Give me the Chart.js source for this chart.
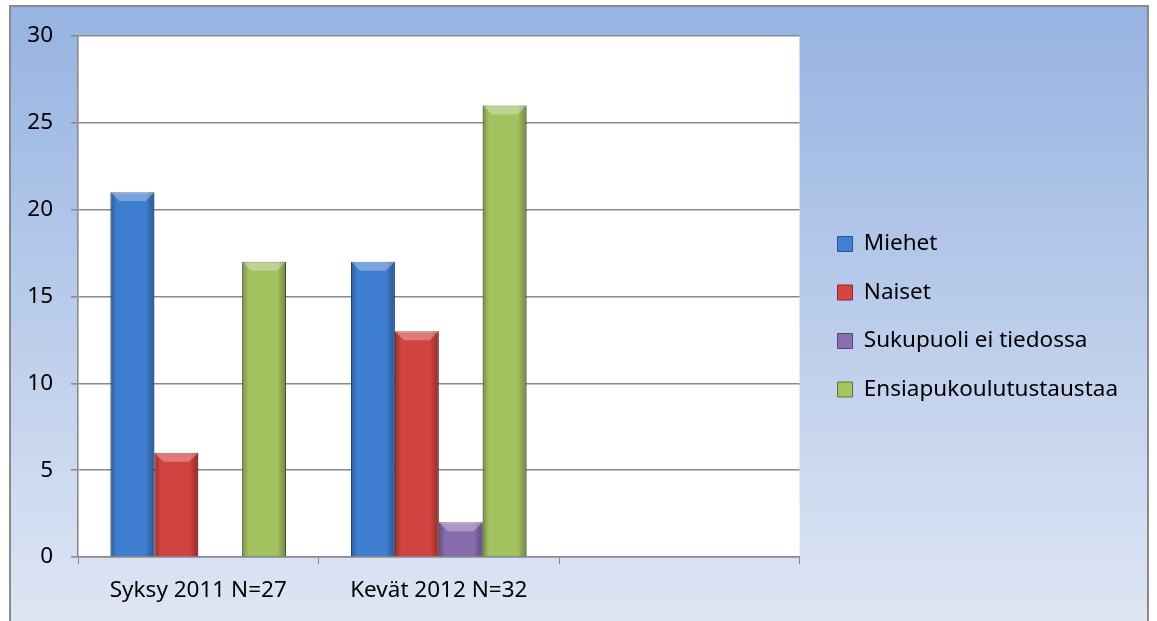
<!DOCTYPE html>
<html>
<head>
<meta charset="utf-8">
<script src="https://cdn.jsdelivr.net/npm/chart.js@4/dist/chart.umd.min.js"></script>
<style>
  html, body { margin: 0; padding: 0; background: #fff; }
  #wrap { width: 1157px; height: 621px; }
</style>
</head>
<body>
<div id="wrap"><canvas id="chart" width="1157" height="621"></canvas></div>
<script>
// Luokat ja sarjat
const categories = ['Syksy 2011 N=27', 'Kevät 2012 N=32', ''];
const miehet = [21, 17, null];
const naiset = [6, 13, null];
const sukupuoliEiTiedossa = [0, 2, null];
const ensiapu = [17, 26, null];
const yTicks = [0, 5, 10, 15, 20, 25, 30];

const FONT = "'Noto Sans'";
const FSIZE = 22.5;
const GRID = '#8a8a8a';

// Tausta ja kehys
const backgroundPlugin = {
    id: 'tausta',
    beforeDraw(chart) {
        const ctx = chart.ctx;
        const a = chart.chartArea;
        ctx.save();
        const g = ctx.createLinearGradient(0, 6, 0, 640);
        g.addColorStop(0, '#96b3e2');
        g.addColorStop(1, '#e0e7f4');
        ctx.fillStyle = g;
        ctx.fillRect(10, 6, 1138, 640);
        ctx.strokeStyle = '#8a8a8a';
        ctx.lineWidth = 2;
        ctx.strokeRect(10, 6, 1138, 640);
        ctx.fillStyle = '#ffffff';
        ctx.fillRect(a.left, a.top, a.right - a.left, a.bottom - a.top);
        ctx.restore();
    }
};

// Viistetyt palkit
const bevelPlugin = {
    id: 'viiste',
    afterDatasetsDraw(chart) {
        const ctx = chart.ctx;
        ctx.save();
        chart.data.datasets.forEach((ds, i) => {
            const meta = chart.getDatasetMeta(i);
            meta.data.forEach((bar, j) => {
                if (!ds.data[j]) return;
                const w = bar.width;
                const l = bar.x - w / 2;
                const r = bar.x + w / 2;
                const t = bar.y;
                const b = bar.base;
                const bv = 9;
                const hg = ctx.createLinearGradient(l, 0, r, 0);
                hg.addColorStop(0, 'rgba(0,0,0,0.28)');
                hg.addColorStop(0.14, 'rgba(0,0,0,0.02)');
                hg.addColorStop(0.8, 'rgba(0,0,0,0.02)');
                hg.addColorStop(1, 'rgba(0,0,0,0.32)');
                ctx.fillStyle = hg;
                ctx.fillRect(l, t, w, b - t);
                ctx.beginPath();
                ctx.moveTo(l, t);
                ctx.lineTo(r, t);
                ctx.lineTo(r - bv, t + bv);
                ctx.lineTo(l + bv, t + bv);
                ctx.closePath();
                ctx.fillStyle = 'rgba(255,255,255,0.3)';
                ctx.fill();
            });
        });
        ctx.restore();
    }
};

function piirra() {
    new Chart(document.getElementById('chart'), {
        type: 'bar',
        data: {
            labels: categories,
            datasets: [
                { label: 'Miehet', data: miehet, backgroundColor: '#3f80d3', borderColor: '#2b5893' },
                { label: 'Naiset', data: naiset, backgroundColor: '#d44441', borderColor: '#8e2b29' },
                { label: 'Sukupuoli ei tiedossa', data: sukupuoliEiTiedossa, backgroundColor: '#8b6db1', borderColor: '#5a4478' },
                { label: 'Ensiapukoulutustaustaa', data: ensiapu, backgroundColor: '#a5c561', borderColor: '#5e7331' }
            ]
        },
        options: {
            responsive: false,
            animation: false,
            layout: { padding: { left: 0, top: 36, right: 29, bottom: 4 } },
            datasets: {
                bar: { barPercentage: 1, categoryPercentage: 0.73, borderWidth: 1 }
            },
            plugins: {
                legend: {
                    position: 'right',
                    align: 'start',
                    maxWidth: 340,
                    // tyhjä otsikko siirtää selitteen alemmas
                    title: { display: true, text: ' ', font: { size: FSIZE }, padding: { top: 143.75, bottom: 0 } },
                    labels: {
                        font: { family: FONT, size: FSIZE },
                        color: '#000',
                        boxWidth: 15,
                        boxHeight: 15,
                        padding: 26
                    }
                },
                tooltip: { enabled: false }
            },
            scales: {
                x: {
                    grid: { drawOnChartArea: false, drawTicks: true, tickLength: 7, color: GRID, offset: true },
                    border: { color: GRID, width: 1.5 },
                    ticks: { font: { family: FONT, size: FSIZE }, color: '#000', padding: 13 }
                },
                y: {
                    min: 0,
                    max: 30,
                    afterBuildTicks(scale) { scale.ticks = yTicks.map(v => ({ value: v })); },
                    grid: { color: GRID, lineWidth: 1.6, tickLength: 7 },
                    border: { color: GRID, width: 1.6 },
                    ticks: { font: { family: FONT, size: FSIZE }, color: '#000', padding: 18 },
                    afterFit(scale) { scale.width = 78; }
                },
                // tyhjä väli kuvaajan ja selitteen välissä
                vali: {
                    position: 'right',
                    min: 0,
                    max: 30,
                    grid: { display: false, drawOnChartArea: false },
                    border: { display: false },
                    ticks: { display: false },
                    afterFit(scale) { scale.width = 12; }
                }
            }
        },
        plugins: [backgroundPlugin, bevelPlugin]
    });
}

document.fonts.load(FSIZE + 'px ' + FONT).then(piirra, piirra);
</script>
</body>
</html>
